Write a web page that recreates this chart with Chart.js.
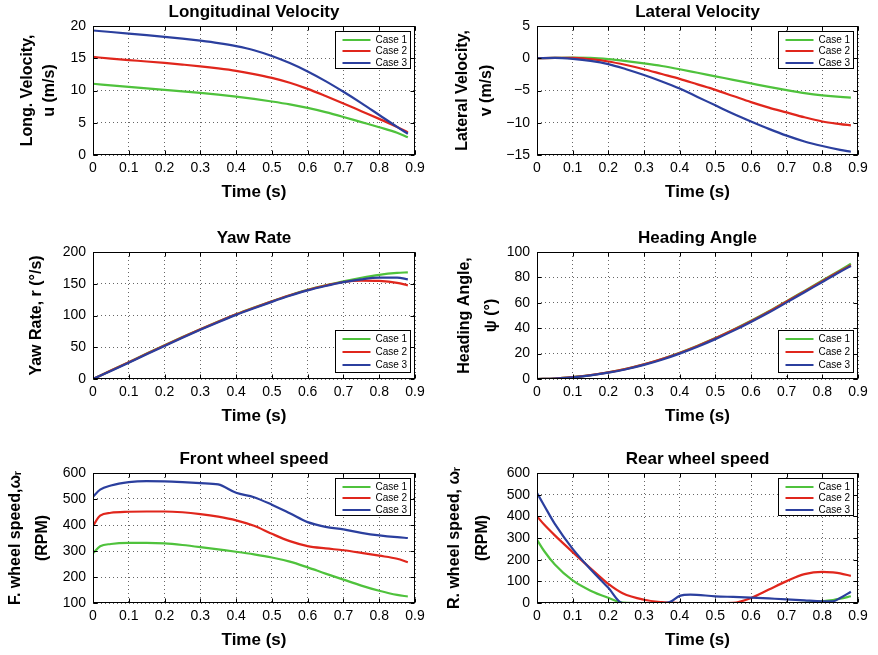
<!DOCTYPE html>
<html>
<head>
<meta charset="utf-8">
<title>Vehicle response - three cases</title>
<script src="https://cdn.jsdelivr.net/npm/chart.js@4.4.1/dist/chart.umd.min.js"></script>
<style>
  body { margin: 0; background: #fff; }
  #fig { position: relative; width: 878px; height: 655px; }
  #fig canvas { position: absolute; }
</style>
</head>
<body>
<div id="fig">
  <canvas id="longVel" width="440" height="202" style="left:0;top:0"></canvas>
  <canvas id="latVel" width="438" height="202" style="left:440px;top:0"></canvas>
  <canvas id="yawRate" width="440" height="200" style="left:0;top:226px"></canvas>
  <canvas id="heading" width="438" height="200" style="left:440px;top:226px"></canvas>
  <canvas id="frontWheel" width="440" height="203" style="left:0;top:447px"></canvas>
  <canvas id="rearWheel" width="438" height="203" style="left:440px;top:447px"></canvas>
</div>
<script>
// Series labels
const caseLabels = ['Case 1', 'Case 2', 'Case 3'];

// Time samples (s)
const timeSmooth = [0, 0.05, 0.1, 0.15, 0.2, 0.25, 0.3, 0.35, 0.4, 0.45, 0.5, 0.55, 0.6, 0.65, 0.7, 0.75, 0.8, 0.85, 0.88];
const timeFront = [0, 0.02, 0.05, 0.1, 0.15, 0.2, 0.25, 0.3, 0.35, 0.4, 0.45, 0.5, 0.55, 0.6, 0.65, 0.7, 0.75, 0.8, 0.85, 0.88];
const timeRear = [0, 0.02, 0.05, 0.1, 0.15, 0.2, 0.24, 0.3, 0.35, 0.37, 0.4, 0.43, 0.5, 0.55, 0.6, 0.65, 0.7, 0.75, 0.8, 0.83, 0.85, 0.88];

// Longitudinal velocity u (m/s)
const longVel1 = [11.05, 10.8, 10.55, 10.32, 10.1, 9.87, 9.62, 9.35, 9.05, 8.7, 8.3, 7.85, 7.3, 6.65, 5.9, 5.1, 4.3, 3.45, 2.75];
const longVel2 = [15.2, 14.95, 14.72, 14.5, 14.27, 14.02, 13.75, 13.43, 13.05, 12.55, 11.95, 11.2, 10.25, 9.15, 8.0, 6.8, 5.6, 4.35, 3.5];
const longVel3 = [19.3, 19.07, 18.83, 18.58, 18.32, 18.04, 17.72, 17.35, 16.88, 16.25, 15.35, 14.25, 12.95, 11.45, 9.8, 8.05, 6.2, 4.35, 3.3];

// Lateral velocity v (m/s)
const latVel1 = [0, 0.05, 0.1, 0.05, -0.15, -0.45, -0.8, -1.2, -1.7, -2.25, -2.8, -3.35, -3.9, -4.45, -4.95, -5.4, -5.75, -6.0, -6.1];
const latVel2 = [0, 0.05, 0.05, -0.15, -0.5, -1.05, -1.7, -2.45, -3.2, -4.05, -4.9, -5.85, -6.8, -7.65, -8.4, -9.15, -9.8, -10.2, -10.4];
const latVel3 = [0, 0.05, -0.1, -0.4, -0.9, -1.7, -2.6, -3.6, -4.7, -6.0, -7.3, -8.6, -9.8, -10.95, -12.0, -12.9, -13.6, -14.2, -14.5];

// Yaw rate r (deg/s)
const yawRate1 = [0, 13.3, 26.5, 40, 53, 66, 78.5, 90.5, 102, 112.5, 122.5, 132, 140.5, 147.5, 154, 159.5, 164, 167, 168];
const yawRate2 = [0, 13.2, 26.3, 39.8, 52.8, 65.8, 78.3, 90.3, 101.8, 112.3, 122.3, 131.8, 140.2, 147.2, 152.8, 155, 154.5, 151.5, 147.5];
const yawRate3 = [0, 12.5, 25.5, 39, 52, 65, 77.5, 89.5, 101, 111.5, 121.5, 131, 139.5, 146.5, 152.5, 157, 159.5, 159.5, 157];

// Heading angle psi (deg)
const heading1 = [0, 0.4, 1.5, 3.0, 5.3, 8.1, 11.6, 15.8, 20.7, 26.2, 32.2, 38.8, 45.8, 53.3, 61.3, 69.4, 77.5, 85.7, 90.7];
const heading2 = [0, 0.4, 1.5, 3.0, 5.2, 8.0, 11.5, 15.7, 20.5, 26, 32, 38.5, 45.5, 53, 61, 69, 77, 85, 89.5];
const heading3 = [0, 0.3, 1.3, 2.8, 5.0, 7.7, 11.1, 15.2, 20.0, 25.4, 31.4, 37.9, 44.9, 52.3, 60.3, 68.3, 76.4, 84.4, 89];

// Front wheel speed (RPM)
const frontWheel1 = [292, 318, 327, 331, 331, 329, 323, 315, 306, 297, 287, 275, 259, 237, 213, 190, 167, 147, 131, 125];
const frontWheel2 = [397, 436, 447, 451, 452, 452, 449, 442, 432, 418, 397, 366, 338, 319, 310, 303, 293, 282, 270, 257];
const frontWheel3 = [509, 536, 552, 565, 569, 568, 565, 561, 556, 524, 507, 478, 445, 411, 393, 383, 370, 360, 353, 350];

// Rear wheel speed (RPM)
const rearWheel1 = [292, 240, 178, 104, 57, 24, 2, 0, 0, 0, 0, 0, 0, 0, 0, 0, 0, 1, 9, 14, 20, 31];
const rearWheel2 = [400, 362, 312, 235, 160, 88, 45, 15, 4, 2, 0, 0, 0, 1, 23, 62, 101, 133, 144, 141, 137, 125];
const rearWheel3 = [508, 450, 365, 250, 156, 70, 0, 0, 0, 3, 33, 39, 31, 28, 25, 21, 17, 12, 8, 8, 23, 52];

// Tick values
const xTicks = [0, 0.1, 0.2, 0.3, 0.4, 0.5, 0.6, 0.7, 0.8, 0.9];
const longVelTicks = [0, 5, 10, 15, 20];
const latVelTicks = [-15, -10, -5, 0, 5];
const yawRateTicks = [0, 50, 100, 150, 200];
const headingTicks = [0, 20, 40, 60, 80, 100];
const frontWheelTicks = [100, 200, 300, 400, 500, 600];
const rearWheelTicks = [0, 100, 200, 300, 400, 500, 600];

const caseColors = ['#4fc23c', '#e0261c', '#2b3f9e'];
const FONT = "'Liberation Sans', Arial, Helvetica, sans-serif";

Chart.defaults.color = '#000';
Chart.defaults.font.family = FONT;

// Format tick numbers, with a real minus sign
function fmtTick(v) {
    return v < 0 ? '\u2212' + Math.abs(v) : String(v);
}

// Draws the black axes box, inward ticks on all sides and the boxed legend
const axesBox = {
    id: 'axesBox',
    afterDatasetsDraw(chart, args, opts) {
        const { ctx, chartArea: a, scales } = chart;
        const L = Math.round(a.left) + 0.5, R = Math.round(a.right) - 0.5;
        const T = Math.round(a.top) + 0.5, B = Math.round(a.bottom) - 0.5;
        ctx.save();
        ctx.strokeStyle = '#000';
        ctx.lineWidth = 1;
        ctx.setLineDash([]);
        ctx.strokeRect(L, T, R - L, B - T);

        // tick marks pointing inward
        ctx.beginPath();
        scales.x.ticks.forEach(t => {
            const px = Math.round(scales.x.getPixelForValue(t.value)) + 0.5;
            ctx.moveTo(px, B); ctx.lineTo(px, B - 4);
            ctx.moveTo(px, T); ctx.lineTo(px, T + 4);
        });
        scales.y.ticks.forEach(t => {
            const py = Math.round(scales.y.getPixelForValue(t.value)) + 0.5;
            ctx.moveTo(L, py); ctx.lineTo(L + 4, py);
            ctx.moveTo(R, py); ctx.lineTo(R - 4, py);
        });
        ctx.stroke();

        // legend box
        const tall = opts.legend === 'se';
        const w = 75, h = tall ? 42 : 37, gap = tall ? 13 : 11.5;
        const x0 = Math.round(a.right - 5 - w) + 0.5;
        const y0 = Math.round(tall ? a.bottom - 7 - h : a.top + 5) + 0.5;
        ctx.fillStyle = '#fff';
        ctx.fillRect(x0, y0, w, h);
        ctx.strokeRect(x0, y0, w, h);
        ctx.font = '10px ' + FONT;
        ctx.textBaseline = 'middle';
        chart.data.datasets.forEach((ds, i) => {
            const y = Math.round(y0 + 8 + i * gap);
            ctx.strokeStyle = ds.borderColor;
            ctx.lineWidth = 2;
            ctx.beginPath();
            ctx.moveTo(x0 + 7, y);
            ctx.lineTo(x0 + 35, y);
            ctx.stroke();
            ctx.fillStyle = '#000';
            ctx.fillText(ds.label, x0 + 40, y + 0.5);
        });
        ctx.restore();
    }
};
Chart.register(axesBox);

// Build one subplot
function makeChart(id, p) {
    const datasets = p.series.map((vals, i) => ({
        label: caseLabels[i],
        data: p.time.map((t, j) => ({ x: t, y: vals[j] })),
        borderColor: caseColors[i],
        borderWidth: 2.2,
        pointRadius: 0,
        fill: false,
        cubicInterpolationMode: 'monotone',
        order: 2 - i
    }));

    const grid = {
        color: 'rgba(0,0,0,0.6)',
        lineWidth: 1,
        drawTicks: false
    };
    const border = { display: false, dash: [1, 3] };

    return new Chart(document.getElementById(id), {
        type: 'line',
        data: { datasets: datasets },
        options: {
            responsive: false,
            animation: false,
            devicePixelRatio: 1,
            layout: { padding: { left: 0, right: p.padRight, top: 0, bottom: 0 } },
            scales: {
                x: {
                    type: 'linear',
                    min: 0,
                    max: 0.9,
                    grid: grid,
                    border: border,
                    afterBuildTicks: s => { s.ticks = xTicks.map(v => ({ value: v })); },
                    afterFit: s => { s.height = 47; s.paddingLeft = 0; s.paddingRight = 0; },
                    ticks: { font: { size: 14 }, padding: 5, maxRotation: 0, callback: v => fmtTick(v) },
                    title: {
                        display: true,
                        text: 'Time (s)',
                        font: { size: 17, weight: 'bold', lineHeight: '20px' },
                        padding: { top: 0, bottom: 0 }
                    }
                },
                y: {
                    type: 'linear',
                    min: p.yTicks[0],
                    max: p.yTicks[p.yTicks.length - 1],
                    grid: grid,
                    border: border,
                    afterBuildTicks: s => { s.ticks = p.yTicks.map(v => ({ value: v })); },
                    afterFit: s => { s.width = p.yWidth; s.paddingTop = 0; s.paddingBottom = 0; },
                    ticks: { font: { size: 14 }, padding: 7, callback: v => fmtTick(v) },
                    title: {
                        display: true,
                        text: p.yTitle,
                        font: { size: 16, weight: 'bold', lineHeight: p.yLine + 'px' },
                        padding: { top: p.yPad, bottom: 0 }
                    }
                }
            },
            plugins: {
                legend: { display: false },
                tooltip: { enabled: false },
                title: {
                    display: true,
                    text: p.title,
                    fullSize: false,
                    font: { size: 17, weight: 'bold', lineHeight: '20px' },
                    padding: { top: 2, bottom: 4 }
                },
                axesBox: { legend: p.legend }
            }
        }
    });
}

makeChart('longVel', {
    title: 'Longitudinal Velocity',
    yTitle: ['Long. Velocity,', 'u (m/s)'], yLine: 22, yPad: 17,
    yWidth: 93, padRight: 25, legend: 'ne',
    time: timeSmooth, series: [longVel1, longVel2, longVel3], yTicks: longVelTicks
});

makeChart('latVel', {
    title: 'Lateral Velocity',
    yTitle: ['Lateral Velocity,', 'v (m/s)'], yLine: 24, yPad: 11,
    yWidth: 97, padRight: 20, legend: 'ne',
    time: timeSmooth, series: [latVel1, latVel2, latVel3], yTicks: latVelTicks
});

makeChart('yawRate', {
    title: 'Yaw Rate',
    yTitle: 'Yaw Rate, r (\u00b0/s)', yLine: 22, yPad: 26,
    yWidth: 93, padRight: 25, legend: 'se',
    time: timeSmooth, series: [yawRate1, yawRate2, yawRate3], yTicks: yawRateTicks
});

makeChart('heading', {
    title: 'Heading Angle',
    yTitle: ['Heading Angle,', '\u03c8 (\u00b0)'], yLine: 27, yPad: 11,
    yWidth: 97, padRight: 20, legend: 'se',
    time: timeSmooth, series: [heading1, heading2, heading3], yTicks: headingTicks
});

makeChart('frontWheel', {
    title: 'Front wheel speed',
    yTitle: ['F. wheel speed,\u03c9\u1d63', '(RPM)'], yLine: 27, yPad: 2,
    yWidth: 93, padRight: 25, legend: 'ne',
    time: timeFront, series: [frontWheel1, frontWheel2, frontWheel3], yTicks: frontWheelTicks
});

makeChart('rearWheel', {
    title: 'Rear wheel speed',
    yTitle: ['R. wheel speed, \u03c9\u1d63', '(RPM)'], yLine: 28, yPad: 1,
    yWidth: 97, padRight: 20, legend: 'ne',
    time: timeRear, series: [rearWheel1, rearWheel2, rearWheel3], yTicks: rearWheelTicks
});
</script>
</body>
</html>
